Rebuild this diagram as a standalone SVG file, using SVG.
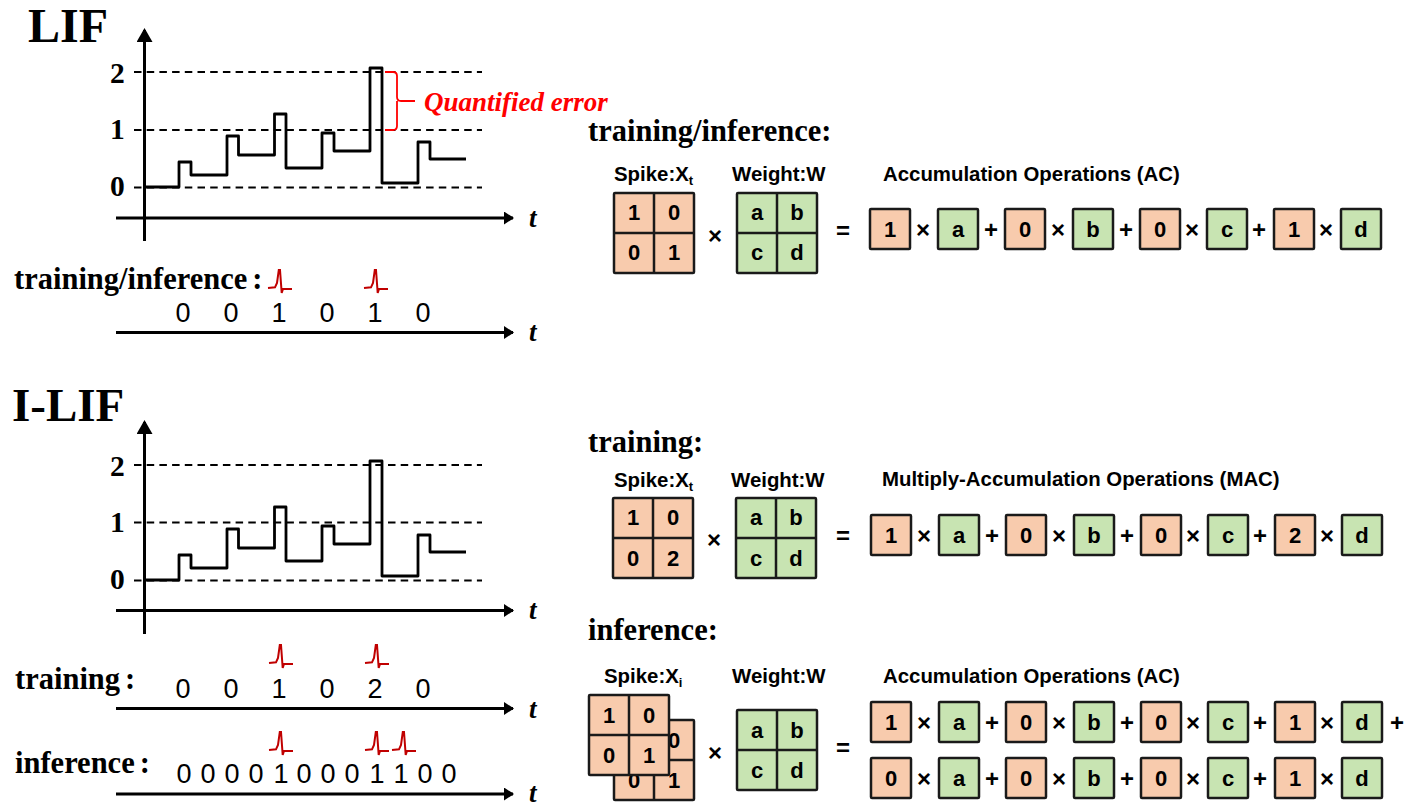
<svg xmlns="http://www.w3.org/2000/svg" width="1412" height="812" viewBox="0 0 1412 812">
<style>
.serif{font-family:"Liberation Serif","Times New Roman",serif;font-weight:bold;fill:#000}
.sans{font-family:"Liberation Sans",Arial,sans-serif;fill:#000}
.title{font-size:48px}
.num{font-size:29.5px}
.t{font-size:27px;font-style:italic}
.lab{font-size:30.5px}
.head{font-size:30.5px}
.dig{font-size:27px;text-anchor:middle}
.cap{font-size:20.4px;font-weight:bold}
.val{font-size:22px;font-weight:bold;text-anchor:middle}
.op{font-size:24px;font-weight:bold;text-anchor:middle}
.err{font-size:27px;font-style:italic;fill:#f00}
.o{fill:#f8cbad;stroke:#1a1a1a;stroke-width:2.5;stroke-linejoin:round}
.g{fill:#c8e4b2;stroke:#1a1a1a;stroke-width:2.5;stroke-linejoin:round}
.ax{fill:none;stroke:#000;stroke-width:3}
.dash{fill:none;stroke:#000;stroke-width:1.900;stroke-dasharray:7.5 5.2}
.wave{fill:none;stroke:#000;stroke-width:2.800;stroke-linejoin:round}
.spike{fill:none;stroke:#c00000;stroke-width:2}
</style>
<defs>
<marker id="ah" markerUnits="userSpaceOnUse" markerWidth="12" markerHeight="14" refX="9" refY="6.500" orient="auto"><path d="M0 0L10 6.500L0 13z" fill="#000"/></marker>
<marker id="av" markerUnits="userSpaceOnUse" markerWidth="16" markerHeight="16" refX="12" refY="8" orient="auto"><path d="M0 0L14 8L0 16z" fill="#000"/></marker>
<path id="sp" class="spike" d="M0 0L7 -.7L9 -5L10.800 -18L12 -18L13.700 5L15 1L24 1"/>
<path id="wv" class="wave" d="M145 187H179V162H191V175H227V136H238.500V155H274.500V114H286V168H322V133H334V151H370V68H382V183H418V142H430V159H466"/>
<g id="mo"><rect class="o" x="0" y="0" width="80" height="80" rx="1"/><path class="o" d="M40 0V80M0 40H80" fill="none"/></g>
<g id="mg"><rect class="g" x="0" y="0" width="80" height="80" rx="1"/><path class="g" d="M40 0V80M0 40H80" fill="none"/></g>
<rect id="to" class="o" width="40" height="40" rx="1"/>
<rect id="tg" class="g" width="40" height="40" rx="1"/>
<g id="row1" class="sans">
<use href="#tg" x="68"/><use href="#tg" x="203"/><use href="#tg" x="337"/><use href="#tg" x="471"/>
<text class="sans val" x="88" y="28">a</text><text class="sans val" x="223" y="28">b</text><text class="sans val" x="357" y="28">c</text><text class="sans val" x="491" y="28">d</text>
<text class="sans op" x="53" y="29">×</text><text class="sans op" x="121" y="29">+</text>
<text class="sans op" x="188" y="29">×</text><text class="sans op" x="256" y="29">+</text>
<text class="sans op" x="322" y="29">×</text><text class="sans op" x="389" y="29">+</text>
<text class="sans op" x="456" y="29">×</text>
</g>
</defs>

<g id="connectors">
<path class="ax" d="M144.500 241V30" marker-end="url(#av)"/>
<path class="ax" d="M116 218H513" marker-end="url(#ah)"/>
<path class="dash" d="M134 72H482M134 130H482M134 187.500H482"/>
<path class="ax" d="M116 332.500H513" marker-end="url(#ah)"/>
<path class="ax" d="M144.500 634V422" marker-end="url(#av)"/>
<path class="ax" d="M116 610.500H513" marker-end="url(#ah)"/>
<path class="dash" d="M134 465H482M134 522.500H482M134 580.500H482"/>
<path class="ax" d="M116 708.500H513" marker-end="url(#ah)"/>
<path class="ax" d="M116 794H513" marker-end="url(#ah)"/>
</g>

<g id="lif-chart">
<text class="serif title" x="28" y="42">LIF</text>
<text class="serif num" x="110" y="83">2</text><text class="serif num" x="110" y="139">1</text><text class="serif num" x="110" y="196">0</text>
<use href="#wv"/>
<path d="M385 72H393Q397 72 397 76V97Q397 101 401 101H415M397 101Q397 105 397 109V126Q397 130 393 130H385" fill="none" stroke="#f00" stroke-width="1.800"/>
<text class="serif err" x="424" y="111">Quantified error</text>
<text class="serif t" x="529" y="227">t</text>
</g>
<g id="lif-spikes">
<text class="serif lab" x="14" y="289">training/inference<tspan dx="5">:</tspan></text>
<use href="#sp" x="268" y="288"/><use href="#sp" x="364" y="288"/>
<text class="sans dig" x="183" y="322">0</text><text class="sans dig" x="231" y="322">0</text><text class="sans dig" x="279" y="322">1</text><text class="sans dig" x="327" y="322">0</text><text class="sans dig" x="375" y="322">1</text><text class="sans dig" x="423" y="322">0</text>
<text class="serif t" x="529" y="341">t</text>
</g>

<g id="ilif-chart">
<text class="serif title" x="12" y="421" style="font-size:47px">I-LIF</text>
<text class="serif num" x="110" y="476">2</text><text class="serif num" x="110" y="532">1</text><text class="serif num" x="110" y="589">0</text>
<use href="#wv" y="393"/>
<text class="serif t" x="529" y="619">t</text>
</g>
<g id="ilif-training">
<text class="serif lab" x="15" y="689">training<tspan dx="5">:</tspan></text>
<use href="#sp" x="269" y="663"/><use href="#sp" x="365" y="663"/>
<text class="sans dig" x="183" y="698">0</text><text class="sans dig" x="231" y="698">0</text><text class="sans dig" x="279" y="698">1</text><text class="sans dig" x="327" y="698">0</text><text class="sans dig" x="375" y="698">2</text><text class="sans dig" x="423" y="698">0</text>
<text class="serif t" x="529" y="718">t</text>
</g>
<g id="ilif-inference">
<text class="serif lab" x="15" y="773">inference<tspan dx="5">:</tspan></text>
<use href="#sp" x="269" y="750"/><use href="#sp" x="365" y="750"/><use href="#sp" x="392" y="750"/>
<text class="sans dig" x="184" y="783">0</text><text class="sans dig" x="208" y="783">0</text><text class="sans dig" x="232" y="783">0</text><text class="sans dig" x="256" y="783">0</text><text class="sans dig" x="281" y="783">1</text><text class="sans dig" x="304" y="783">0</text><text class="sans dig" x="328" y="783">0</text><text class="sans dig" x="352" y="783">0</text><text class="sans dig" x="377" y="783">1</text><text class="sans dig" x="401" y="783">1</text><text class="sans dig" x="425" y="783">0</text><text class="sans dig" x="449" y="783">0</text>
<text class="serif t" x="529" y="802">t</text>
</g>

<g id="eq-lif">
<text class="serif head" x="588" y="141">training/inference:</text>
<text class="sans cap" x="614" y="181">Spike:X<tspan font-size="13" dy="4">t</tspan></text>
<text class="sans cap" x="732" y="181">Weight:W</text>
<text class="sans cap" x="883" y="181">Accumulation Operations (AC)</text>
<use href="#mo" x="614" y="193"/>
<text class="sans val" x="634" y="220">1</text><text class="sans val" x="674" y="220">0</text><text class="sans val" x="634" y="260">0</text><text class="sans val" x="674" y="260">1</text>
<text class="sans op" x="715" y="244">×</text>
<use href="#mg" x="737" y="193"/>
<text class="sans val" x="757" y="220">a</text><text class="sans val" x="797" y="220">b</text><text class="sans val" x="757" y="260">c</text><text class="sans val" x="797" y="260">d</text>
<text class="sans op" x="843" y="239">=</text>
<use href="#to" x="870" y="209"/><use href="#to" x="1005" y="209"/><use href="#to" x="1140" y="209"/><use href="#to" x="1274" y="209"/>
<use href="#row1" x="870" y="209"/>
<text class="sans val" x="890" y="237">1</text><text class="sans val" x="1025" y="237">0</text><text class="sans val" x="1160" y="237">0</text><text class="sans val" x="1294" y="237">1</text>
</g>

<g id="eq-training">
<text class="serif head" x="588" y="452">training:</text>
<text class="sans cap" x="614" y="487">Spike:X<tspan font-size="13" dy="4">t</tspan></text>
<text class="sans cap" x="731" y="487">Weight:W</text>
<text class="sans cap" x="882" y="486">Multiply-Accumulation Operations (MAC)</text>
<use href="#mo" x="613" y="498"/>
<text class="sans val" x="633" y="525">1</text><text class="sans val" x="673" y="525">0</text><text class="sans val" x="633" y="566">0</text><text class="sans val" x="673" y="566">2</text>
<text class="sans op" x="714" y="548">×</text>
<use href="#mg" x="736" y="498"/>
<text class="sans val" x="756" y="525">a</text><text class="sans val" x="796" y="525">b</text><text class="sans val" x="756" y="566">c</text><text class="sans val" x="796" y="566">d</text>
<text class="sans op" x="843" y="544">=</text>
<use href="#to" x="871" y="515"/><use href="#to" x="1006" y="515"/><use href="#to" x="1141" y="515"/><use href="#to" x="1275" y="515"/>
<use href="#row1" x="871" y="515"/>
<text class="sans val" x="891" y="543">1</text><text class="sans val" x="1026" y="543">0</text><text class="sans val" x="1161" y="543">0</text><text class="sans val" x="1295" y="543">2</text>
</g>

<g id="eq-inference">
<text class="serif head" x="588" y="640">inference:</text>
<text class="sans cap" x="604" y="683">Spike:X<tspan font-size="13" dy="4">i</tspan></text>
<text class="sans cap" x="732" y="683">Weight:W</text>
<text class="sans cap" x="883" y="683">Accumulation Operations (AC)</text>
<use href="#mo" x="614" y="720"/>
<text class="sans val" x="634" y="788">0</text><text class="sans val" x="674" y="748">0</text><text class="sans val" x="674" y="788">1</text>
<use href="#mo" x="589" y="695"/>
<text class="sans val" x="609" y="723">1</text><text class="sans val" x="649" y="723">0</text><text class="sans val" x="609" y="763">0</text><text class="sans val" x="649" y="763">1</text>
<text class="sans op" x="715" y="761">×</text>
<use href="#mg" x="737" y="710"/>
<text class="sans val" x="757" y="738">a</text><text class="sans val" x="797" y="738">b</text><text class="sans val" x="757" y="778">c</text><text class="sans val" x="797" y="778">d</text>
<text class="sans op" x="843" y="756">=</text>
<use href="#to" x="871" y="702"/><use href="#to" x="1006" y="702"/><use href="#to" x="1141" y="702"/><use href="#to" x="1275" y="702"/>
<use href="#row1" x="871" y="702"/>
<text class="sans val" x="891" y="730">1</text><text class="sans val" x="1026" y="730">0</text><text class="sans val" x="1161" y="730">0</text><text class="sans val" x="1295" y="730">1</text>
<text class="sans op" x="1397" y="731">+</text>
<use href="#to" x="871" y="758"/><use href="#to" x="1006" y="758"/><use href="#to" x="1141" y="758"/><use href="#to" x="1275" y="758"/>
<use href="#row1" x="871" y="758"/>
<text class="sans val" x="891" y="786">0</text><text class="sans val" x="1026" y="786">0</text><text class="sans val" x="1161" y="786">0</text><text class="sans val" x="1295" y="786">1</text>
</g>
</svg>
